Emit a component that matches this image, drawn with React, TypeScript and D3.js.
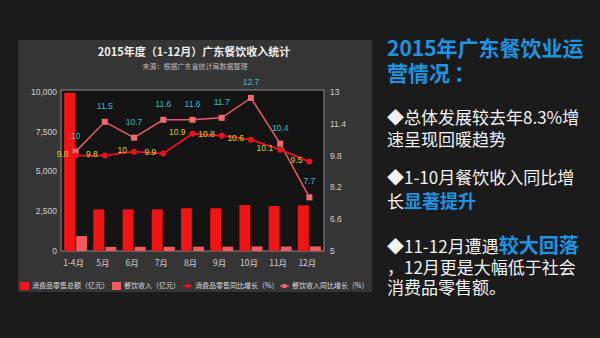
import React from "react";
import * as d3 from "d3";

const categories = ["1-4月", "5月", "6月", "7月", "8月", "9月", "10月", "11月", "12月"];
const retailSales = [9950, 2620, 2620, 2620, 2690, 2690, 2890, 2830, 2870];
const cateringRevenue = [940, 260, 265, 265, 270, 270, 285, 280, 290];
const retailGrowth = [9.8, 9.8, 10, 9.9, 10.9, 10.8, 10.6, 10.1, 9.5];
const cateringGrowth = [10, 11.5, 10.7, 11.6, 11.6, 11.7, 12.7, 10.4, 7.7];
const leftTicks = [0, 2500, 5000, 7500, 10000];
const rightTicks = [5, 6.6, 8.2, 9.8, 11.4, 13];
const legendItems = ["消费品零售总额（亿元）", "餐饮收入（亿元）", "消费品零售同比增长（%）", "餐饮收入同比增长（%）"];

const W = 600, H = 338;
const CJK = "'Noto Sans CJK SC', 'Noto Sans', sans-serif";
const NUM = "'Liberation Sans', Arial, sans-serif";

const RED = "#f01414";
const PINK = "#f25a5e";
const LINE_RED = "#e8141c";
const LINE_PINK = "#e85a66";
const CYAN = "#2cc0c8";
const YELLOW = "#d8d030";
const BLUE = "#1e93e0";

export default function App() {
  const plot = { left: 61, right: 324, top: 90, bottom: 251 };
  const x = d3.scaleBand<string>().domain(categories).range([plot.left, plot.right]);
  const sub = d3.scaleBand<string>().domain(["a", "b"]).range([-11.5, 11.5]).paddingInner(0.1);
  const yL = d3.scaleLinear().domain([0, 10000]).range([plot.bottom, 92]);
  const yR = d3.scaleLinear().domain([5, 13]).range([plot.bottom, 92]);
  const cx = (c: string) => (x(c) as number) + x.bandwidth() / 2;

  const lineGen = (vals: number[]) =>
    d3.line<number>().x((_, i) => cx(categories[i])).y((v) => yR(v))(vals) as string;

  const fmt = d3.format(",");
  const legendX = [20, 112, 183, 280];

  return (
    <svg width={W} height={H} style={{ position: "absolute", left: 0, top: 0 }}>
      <rect x={0} y={0} width={W} height={H} fill="#1b1b1b" />
      {/* chart panel */}
      <rect x={18} y={40} width={354} height={252} fill="#353535" />
      <text x={194} y={56} textAnchor="middle" fill="#eeeeee" fontFamily={CJK} fontWeight="bold" fontSize={11}>
        2015年度（1-12月）广东餐饮收入统计
      </text>
      <text x={195} y={69} textAnchor="middle" fill="#bbbbbb" fontFamily={CJK} fontSize={7}>
        来源：根据广东省统计局数据整理
      </text>
      <rect x={plot.left} y={plot.top} width={plot.right - plot.left} height={plot.bottom - plot.top} fill="#141414" stroke="#8a8a8a" strokeWidth={1} />

      {/* left axis */}
      {leftTicks.map((t) => (
        <text key={"l" + t} x={57} y={yL(t)} dy="0.35em" textAnchor="end" fill="#d0d0d0" fontFamily={NUM} fontSize={8.5}>
          {fmt(t)}
        </text>
      ))}
      {/* right axis */}
      {rightTicks.map((t) => (
        <text key={"r" + t} x={330} y={yR(t)} dy="0.35em" textAnchor="start" fill="#d0d0d0" fontFamily={NUM} fontSize={8.5}>
          {t}
        </text>
      ))}
      {/* x labels */}
      {categories.map((c) => (
        <text key={"x" + c} x={cx(c) - 2} y={263} dy="0.35em" textAnchor="middle" fill="#d0d0d0" fontFamily={CJK} fontSize={8.5}>
          {c}
        </text>
      ))}

      {/* bars */}
      {categories.map((c, i) => (
        <g key={"b" + c}>
          <rect x={cx(c) + (sub("a") as number)} y={yL(retailSales[i])} width={sub.bandwidth()} height={yL(0) - yL(retailSales[i])} fill={RED} />
          <rect x={cx(c) + (sub("b") as number)} y={yL(cateringRevenue[i])} width={sub.bandwidth()} height={yL(0) - yL(cateringRevenue[i])} fill={PINK} />
        </g>
      ))}

      {/* lines */}
      <path d={lineGen(cateringGrowth)} fill="none" stroke={LINE_PINK} strokeWidth={1.5} />
      <path d={lineGen(retailGrowth)} fill="none" stroke={LINE_RED} strokeWidth={1.8} />
      {cateringGrowth.map((v, i) => (
        <rect key={"pm" + i} x={cx(categories[i]) - 3} y={yR(v) - 3} width={6} height={6} fill="#f06a72" />
      ))}
      {retailGrowth.map((v, i) => (
        <circle key={"rm" + i} cx={cx(categories[i])} cy={yR(v)} r={3} fill={LINE_RED} />
      ))}
      {cateringGrowth.map((v, i) => (
        <text key={"pl" + i} x={cx(categories[i])} y={yR(v) - 16} dy="0.35em" textAnchor="middle" fill={CYAN} fontFamily={NUM} fontSize={8.5}>
          {v}
        </text>
      ))}
      {retailGrowth.map((v, i) => (
        <text key={"rl" + i} x={cx(categories[i]) - 7} y={yR(v) - 2} dy="0.35em" textAnchor="end" fill={YELLOW} fontFamily={NUM} fontSize={8.5}>
          {v}
        </text>
      ))}

      {/* legend */}
      <g fontFamily={CJK} fontSize={7} fill="#dddddd">
        <rect x={legendX[0]} y={282} width={9} height={8} fill={RED} />
        <text x={legendX[0] + 12} y={286} dy="0.35em">{legendItems[0]}</text>
        <rect x={legendX[1]} y={282} width={9} height={8} fill={PINK} />
        <text x={legendX[1] + 12} y={286} dy="0.35em">{legendItems[1]}</text>
        <line x1={legendX[2]} x2={legendX[2] + 9} y1={286} y2={286} stroke={LINE_RED} strokeWidth={1.5} />
        <circle cx={legendX[2] + 4.5} cy={286} r={2.2} fill={LINE_RED} />
        <text x={legendX[2] + 12} y={286} dy="0.35em">{legendItems[2]}</text>
        <line x1={legendX[3]} x2={legendX[3] + 9} y1={286} y2={286} stroke={LINE_PINK} strokeWidth={1.5} />
        <rect x={legendX[3] + 2.5} y={284} width={4} height={4} fill="#f06a72" />
        <text x={legendX[3] + 12} y={286} dy="0.35em">{legendItems[3]}</text>
      </g>

      {/* right commentary */}
      <g fontFamily={CJK}>
        <text x={387} y={56} fill={BLUE} fontWeight="bold" fontSize={21}>2015年广东餐饮业运</text>
        <text x={387} y={81} fill={BLUE} fontWeight="bold" fontSize={21}>
          营情况<tspan dx={4}>：</tspan>
        </text>

        <text x={387} y={124} fill="#f2f2f2" fontSize={17}>◆总体发展较去年8.3%增</text>
        <text x={387} y={146} fill="#f2f2f2" fontSize={17}>速呈现回暖趋势</text>

        <text x={387} y={184} fill="#f2f2f2" fontSize={17}>◆1-10月餐饮收入同比增</text>
        <text x={387} y={208} fill="#f2f2f2" fontSize={17}>
          长<tspan fill={BLUE} fontWeight="bold" fontSize={18}>显著提升</tspan>
        </text>

        <text x={387} y={253} fill="#f2f2f2" fontSize={17}>
          ◆11-12月遭遇<tspan fill={BLUE} fontWeight="bold" fontSize={20}>较大回落</tspan>
        </text>
        <text x={387} y={274} fill="#f2f2f2" fontSize={17}>，12月更是大幅低于社会</text>
        <text x={387} y={294} fill="#f2f2f2" fontSize={17}>消费品零售额。</text>
      </g>
    </svg>
  );
}
